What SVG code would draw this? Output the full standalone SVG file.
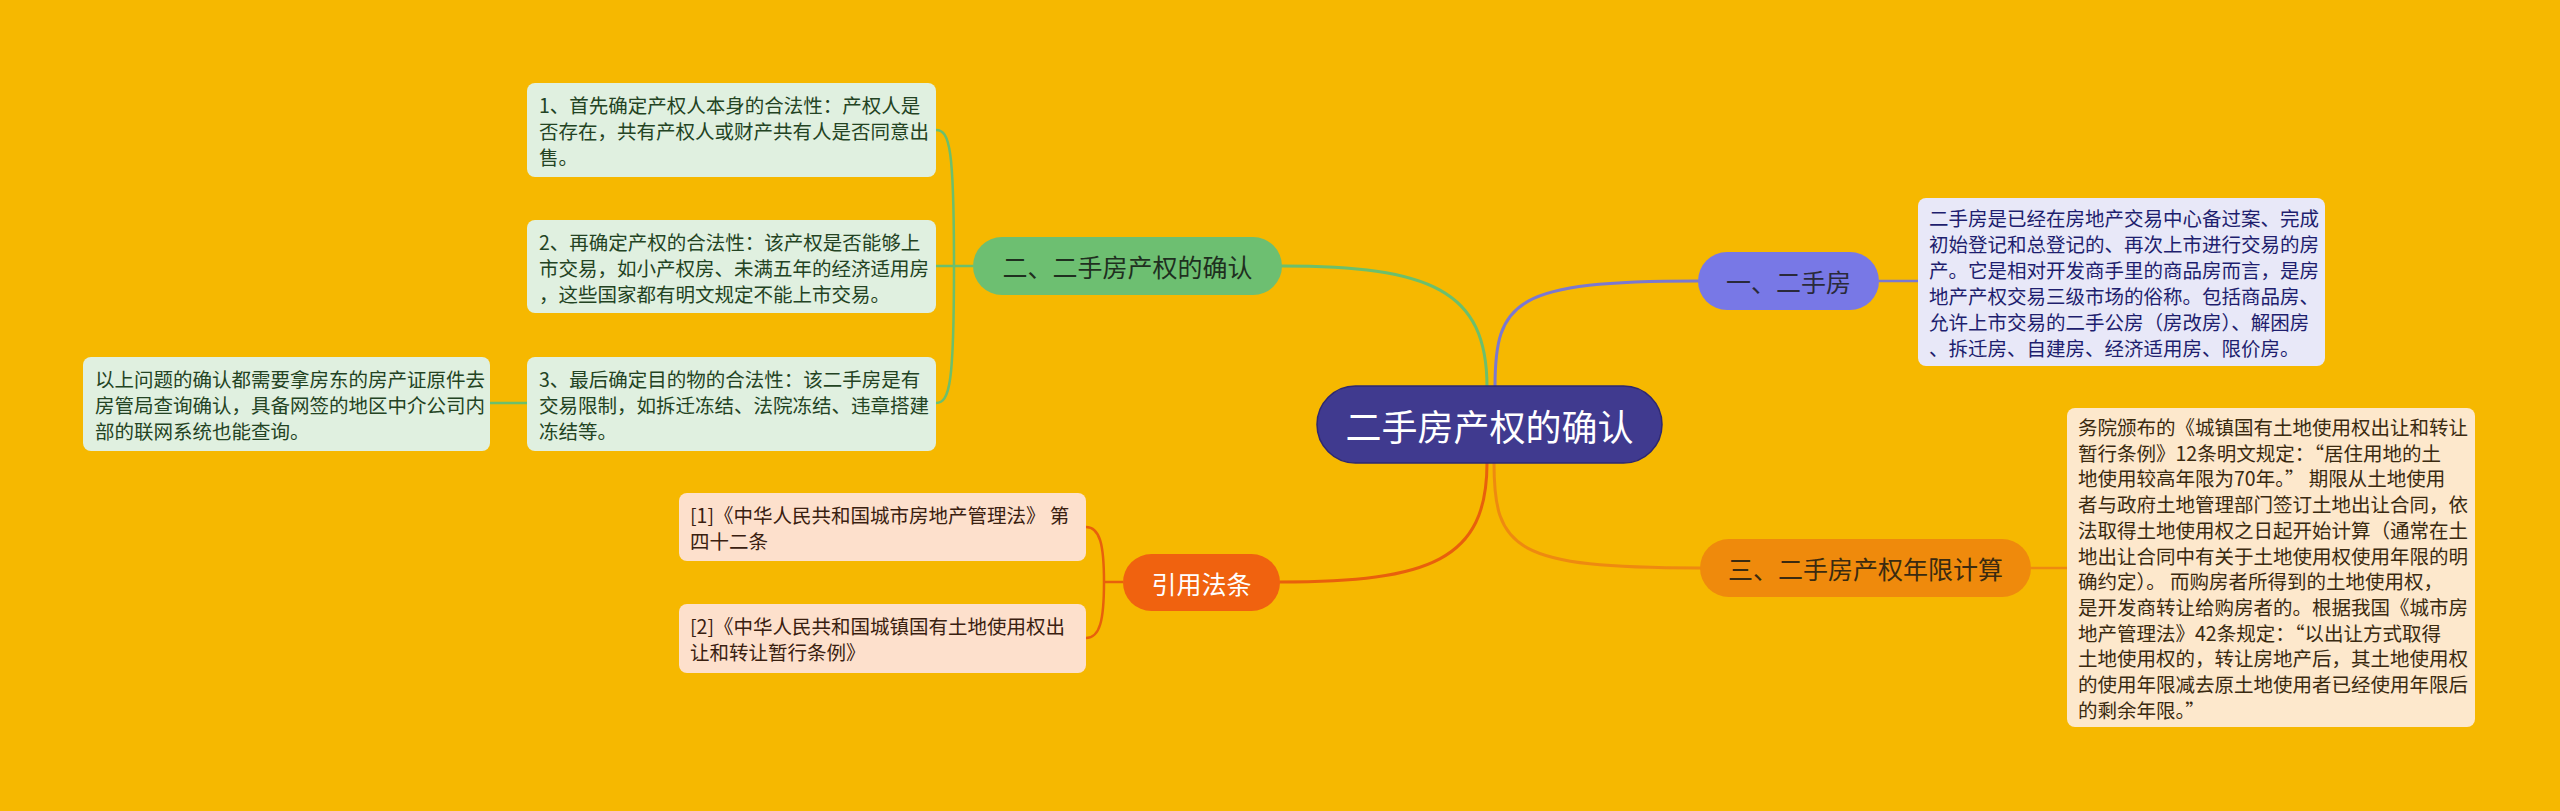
<svg xmlns="http://www.w3.org/2000/svg" width="2560" height="811" viewBox="0 0 2560 811">
<style>
text{font-family:"Noto Sans CJK SC","Noto Sans",sans-serif;dominant-baseline:central}
.bt{font-size:19.5px}
.nt{font-size:25px;text-anchor:middle}
.c{fill:none;stroke-width:3;stroke-linecap:round}
.s{fill:none;stroke-width:2.5}
</style>
<rect x="0" y="0" width="2560" height="811" fill="#f6b800"/>
<g id="connectors">
  <path class="c" stroke="#6cbf6c" d="M1487 387 C1487 290 1430 266 1282 266"/>
  <path class="c" stroke="#7b78d0" d="M1495 387 C1495 300 1515 281 1698 281"/>
  <path class="c" stroke="#e8600c" d="M1487 463 C1487 560 1430 582 1280 582"/>
  <path class="c" stroke="#ee8a10" d="M1494 463 C1494 550 1515 568 1700 568"/>
  <path class="s" stroke="#6cbf6c" d="M973 266 L936 266"/>
  <path class="s" stroke="#6cbf6c" d="M954 266 C954 150 950 130 936 130"/>
  <path class="s" stroke="#6cbf6c" d="M954 266 C954 382 950 403 936 403"/>
  <path class="s" stroke="#6cbf6c" d="M527 403 L490 403"/>
  <path class="s" stroke="#e8600c" d="M1123 582 L1104 582"/>
  <path class="s" stroke="#e8600c" d="M1104 582 C1104 545 1100 527 1086 527"/>
  <path class="s" stroke="#e8600c" d="M1104 582 C1104 620 1100 638 1086 638"/>
  <path class="s" stroke="#7b78d0" d="M1879 281 L1918 281"/>
  <path class="s" stroke="#ee8a10" d="M2031 568 L2067 568"/>
</g>
<g id="root">
  <rect x="1317" y="386" width="345" height="77" rx="38.5" fill="#403a8f" stroke="#2e2870" stroke-width="1.5"/>
  <text x="1489.5" y="424.5" font-size="36" fill="#ffffff" text-anchor="middle">二手房产权的确认</text>
</g>
<g id="b1">
  <rect x="1698" y="252" width="181" height="58" rx="29" fill="#7878e6"/>
  <text class="nt" x="1788.5" y="281" fill="#2a2a3a">一、二手房</text>
</g>
<g id="b1t">
  <rect x="1918" y="198" width="407" height="168" rx="8" fill="#e8e8f8"/>
  <text class="bt" fill="#1e1e6e"><tspan x="1929" y="217">二手房是已经在房地产交易中心备过案、完成</tspan><tspan x="1929" y="243">初始登记和总登记的、再次上市进行交易的房</tspan><tspan x="1929" y="269">产。它是相对开发商手里的商品房而言，是房</tspan><tspan x="1929" y="295">地产产权交易三级市场的俗称。包括商品房、</tspan><tspan x="1929" y="321">允许上市交易的二手公房（房改房）、解困房</tspan><tspan x="1929" y="347">、拆迁房、自建房、经济适用房、限价房。</tspan></text>
</g>
<g id="b3">
  <rect x="1700" y="539" width="331" height="58" rx="29" fill="#ef8a0c"/>
  <text class="nt" x="1865.5" y="568" fill="#3a2a10">三、二手房产权年限计算</text>
</g>
<g id="b3t">
  <rect x="2067" y="408" width="408" height="319" rx="8" fill="#fde8cc"/>
  <text class="bt" fill="#3a2a10"><tspan x="2078" y="426">务院颁布的《城镇国有土地使用权出让和转让</tspan><tspan x="2078" y="451.7">暂行条例》12条明文规定：“居住用地的土</tspan><tspan x="2078" y="477.4">地使用较高年限为70年。” 期限从土地使用</tspan><tspan x="2078" y="503.1">者与政府土地管理部门签订土地出让合同，依</tspan><tspan x="2078" y="528.8">法取得土地使用权之日起开始计算（通常在土</tspan><tspan x="2078" y="554.5">地出让合同中有关于土地使用权使用年限的明</tspan><tspan x="2078" y="580.2">确约定）。 而购房者所得到的土地使用权，</tspan><tspan x="2078" y="605.9">是开发商转让给购房者的。根据我国《城市房</tspan><tspan x="2078" y="631.6">地产管理法》42条规定：“以出让方式取得</tspan><tspan x="2078" y="657.3">土地使用权的，转让房地产后，其土地使用权</tspan><tspan x="2078" y="683">的使用年限减去原土地使用者已经使用年限后</tspan><tspan x="2078" y="708.7">的剩余年限。”</tspan></text>
</g>
<g id="b2">
  <rect x="973" y="237" width="309" height="58" rx="29" fill="#6dbf71"/>
  <text class="nt" x="1127.5" y="266" fill="#1f2f1f">二、二手房产权的确认</text>
</g>
<g id="b2a">
  <rect x="527" y="83" width="409" height="94" rx="8" fill="#e0f0e0"/>
  <text class="bt" fill="#234323"><tspan x="539" y="104">1、首先确定产权人本身的合法性：产权人是</tspan><tspan x="539" y="130">否存在，共有产权人或财产共有人是否同意出</tspan><tspan x="539" y="156">售。</tspan></text>
</g>
<g id="b2b">
  <rect x="527" y="220" width="409" height="93" rx="8" fill="#e0f0e0"/>
  <text class="bt" fill="#234323"><tspan x="539" y="241">2、再确定产权的合法性：该产权是否能够上</tspan><tspan x="539" y="267">市交易，如小产权房、未满五年的经济适用房</tspan><tspan x="539" y="293">，这些国家都有明文规定不能上市交易。</tspan></text>
</g>
<g id="b2c">
  <rect x="527" y="357" width="409" height="94" rx="8" fill="#e0f0e0"/>
  <text class="bt" fill="#234323"><tspan x="539" y="378">3、最后确定目的物的合法性：该二手房是有</tspan><tspan x="539" y="404">交易限制，如拆迁冻结、法院冻结、违章搭建</tspan><tspan x="539" y="430">冻结等。</tspan></text>
</g>
<g id="b2c1">
  <rect x="83" y="357" width="407" height="94" rx="8" fill="#e0f0e0"/>
  <text class="bt" fill="#234323"><tspan x="95" y="378">以上问题的确认都需要拿房东的房产证原件去</tspan><tspan x="95" y="404">房管局查询确认，具备网签的地区中介公司内</tspan><tspan x="95" y="430">部的联网系统也能查询。</tspan></text>
</g>
<g id="b4">
  <rect x="1123" y="554" width="157" height="57" rx="28.5" fill="#f0620f"/>
  <text class="nt" x="1201.5" y="582.5" fill="#ffffff">引用法条</text>
</g>
<g id="b4a">
  <rect x="679" y="493" width="407" height="68" rx="8" fill="#fde0cc"/>
  <text class="bt" fill="#3a2010"><tspan x="690" y="514">[1]《中华人民共和国城市房地产管理法》 第</tspan><tspan x="690" y="540">四十二条</tspan></text>
</g>
<g id="b4b">
  <rect x="679" y="604" width="407" height="69" rx="8" fill="#fde0cc"/>
  <text class="bt" fill="#3a2010"><tspan x="690" y="625">[2]《中华人民共和国城镇国有土地使用权出</tspan><tspan x="690" y="651">让和转让暂行条例》</tspan></text>
</g>
</svg>
